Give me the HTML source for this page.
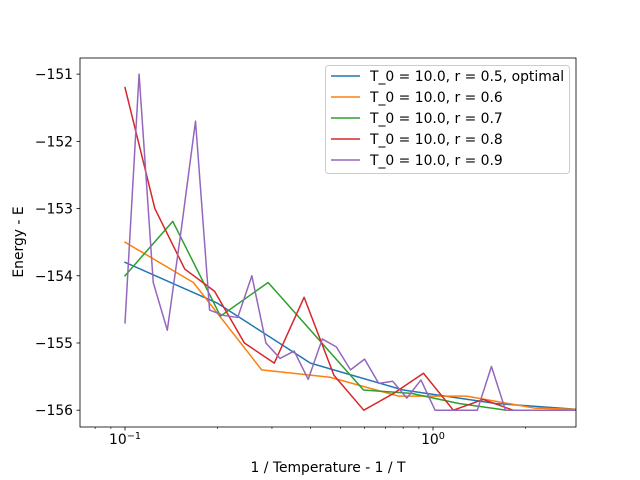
<!DOCTYPE html>
<html><head><meta charset="utf-8"><style>
body{margin:0;background:#fff;}
svg{display:block;font-family:"DejaVu Sans","Liberation Sans",sans-serif;}
</style></head><body>
<svg id="chart" width="640" height="480" viewBox="0 0 640 480">
<rect width="640" height="480" fill="#fff"/>
<g id="plot"></g>
</svg>
<script>
const seriesLabels = ["T_0 = 10.0, r = 0.5, optimal","T_0 = 10.0, r = 0.6","T_0 = 10.0, r = 0.7","T_0 = 10.0, r = 0.8","T_0 = 10.0, r = 0.9"];
const seriesColors = ["#1f77b4","#ff7f0e","#2ca02c","#d62728","#9467bd"];
const xR05 = [0.1,0.2,0.4,0.8,1.6,3.2];
const eR05 = [-153.8,-154.41,-155.3,-155.7,-155.9,-156.0];
const xR06 = [0.1,0.1667,0.2778,0.463,0.772,1.286,2.143,3.572];
const eR06 = [-153.5,-154.1,-155.4,-155.51,-155.79,-155.79,-155.97,-156.0];
const xR07 = [0.1,0.1429,0.2041,0.2915,0.4165,0.595,0.85,1.214,1.735,2.478,3.54];
const eR07 = [-154.0,-153.19,-154.6,-154.1,-154.9,-155.7,-155.75,-155.9,-156.0,-156.0,-156.0];
const xR08 = [0.1,0.125,0.1563,0.1953,0.2441,0.3052,0.3815,0.4768,0.596,0.745,0.9313,1.1642,1.4552,1.819,2.2737,2.8422,3.5527];
const eR08 = [-151.2,-153.0,-153.9,-154.23,-155.0,-155.3,-154.32,-155.48,-156.0,-155.75,-155.45,-156.0,-155.84,-156.0,-156.0,-156.0,-156.0];
const xR09 = [0.1,0.1111,0.1235,0.1372,0.1524,0.1694,0.1882,0.2091,0.2323,0.2581,0.2868,0.3187,0.3541,0.3934,0.4371,0.4857,0.5397,0.5996,0.6662,0.7403,0.8225,0.9139,1.0155,1.1283,1.2537,1.393,1.5478,1.7198,1.9109,2.1232,2.3591,2.6212,2.9125];
const eR09 = [-154.7,-151.0,-154.1,-154.81,-153.3,-151.7,-154.51,-154.59,-154.62,-154.0,-155.0,-155.23,-155.12,-155.54,-154.94,-155.06,-155.4,-155.24,-155.6,-155.57,-155.82,-155.55,-156.0,-156.0,-156.0,-156.0,-155.35,-156.0,-156.0,-156.0,-156.0,-156.0,-156.0];
const xSets=[xR05,xR06,xR07,xR08,xR09];
const eSets=[eR05,eR06,eR07,eR08,eR09];
const yTicks=[-151,-152,-153,-154,-155,-156];
const yTickLabels=["\u2212151","\u2212152","\u2212153","\u2212154","\u2212155","\u2212156"];

const L=80,R=576,T=58,B=427;
const xMin=Math.log10(0.07143), xMax=Math.log10(2.9125);
const yMin=-156.25, yMax=-150.76;
function sx(v){return L+(Math.log10(v)-xMin)/(xMax-xMin)*(R-L);}
function sy(v){return B-(v-yMin)/(yMax-yMin)*(B-T);}
const NS="http://www.w3.org/2000/svg";
const g=document.getElementById('plot');
function mk(tag,attrs,parent){const e=document.createElementNS(NS,tag);for(const k in attrs)e.setAttribute(k,attrs[k]);(parent||g).appendChild(e);return e;}

// clip
const defs=mk('defs',{});
const cp=mk('clipPath',{id:'clip'},defs);
mk('rect',{x:L,y:T,width:R-L,height:B-T},cp);

// series
const lines=mk('g',{'clip-path':'url(#clip)'});


for(let s=0;s<5;s++){
  const pts=xSets[s].map((x,i)=>sx(x).toFixed(2)+','+sy(eSets[s][i]).toFixed(2)).join(' ');
  const p=mk('polyline',{points:pts,fill:'none',stroke:seriesColors[s],'stroke-width':1.5,'stroke-linejoin':'round','stroke-linecap':'square'},lines);
  
  
}

// axes frame
const fr=mk('rect',{x:L,y:T,width:R-L,height:B-T,fill:'none',stroke:'#000','stroke-width':0.8});



// x ticks
const xt=mk('g',{});


for(const dec of [0.01,0.1,1]){
  for(let m=1;m<10;m++){
    const v=dec*m; const px=sx(v);
    if(px<L-0.5||px>R+0.5) continue;
    const major=(m===1);
    mk('line',{x1:px,x2:px,y1:B,y2:B+(major?3.5:2),stroke:'#000','stroke-width':major?0.8:0.6},xt);
    if(major){
      const t=mk('text',{x:px,y:B+17,'font-size':13.9,'text-anchor':'middle',fill:'#000'},xt);
      const e=(dec===0.1)?'\u22121':'0';
      t.innerHTML='10<tspan dy="-5" font-size="9.7">'+e+'</tspan>';
      
      
    }
  }
}
// y ticks
const yt=mk('g',{});


yTicks.forEach((v,i)=>{
  const py=sy(v);
  mk('line',{x1:L-3.5,x2:L,y1:py,y2:py,stroke:'#000','stroke-width':0.8},yt);
  const t=mk('text',{x:L-7,y:py+5,'font-size':13.9,'text-anchor':'end',fill:'#000'},yt);
  t.textContent=yTickLabels[i];
  
  
});
// axis titles
const xl=mk('text',{x:(L+R)/2,y:472,'font-size':13.9,'text-anchor':'middle'});
xl.textContent='1 / Temperature - 1 / T';


const yl=mk('text',{x:0,y:0,'font-size':13.9,'text-anchor':'middle',transform:'translate(23,242) rotate(-90)'});
yl.textContent='Energy - E';



// legend
const lg=mk('g',{});


mk('rect',{x:325.5,y:65.5,width:244,height:108,rx:3,fill:'#fff','fill-opacity':0.8,stroke:'#ccc','stroke-width':1},lg);
for(let s=0;s<5;s++){
  const cy=76+s*21;
  const en=mk('g',{},lg);
  
  
  mk('line',{x1:331,x2:360,y1:cy,y2:cy,stroke:seriesColors[s],'stroke-width':1.5},en);
  const t=mk('text',{x:370,y:cy+5,'font-size':13.9,fill:'#000'},en);
  t.textContent=seriesLabels[s];
}
</script>
</body></html>
